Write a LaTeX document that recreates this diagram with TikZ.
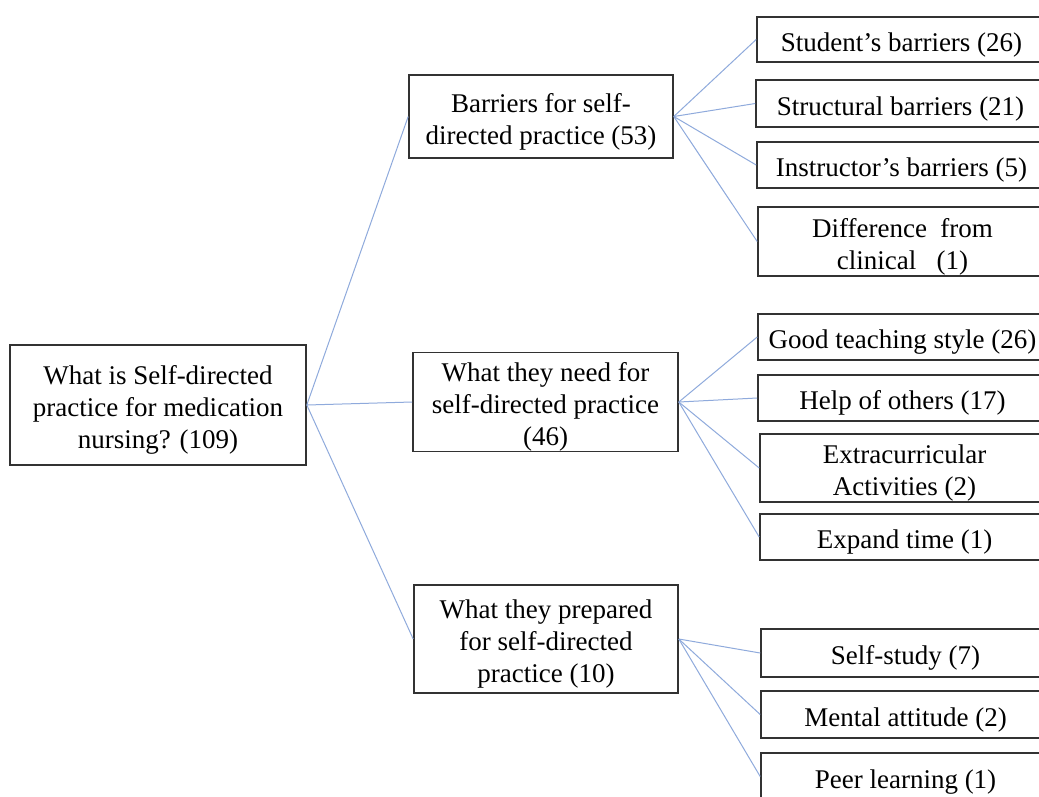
\documentclass[tikz,border=0pt]{standalone}
\usepackage{fontspec}
\setmainfont{Liberation Serif}
\definecolor{linkblue}{RGB}{143,170,220}
\definecolor{boxline}{RGB}{50,50,50}
\newcommand\tstrut{\rule{0pt}{29pt}}
\begin{document}
\begin{tikzpicture}[x=1pt,y=-1pt,
  box/.style={draw=boxline, line width=1.6pt, fill=white, rectangle, inner sep=0pt,
    align=center, font=\fontsize{27}{32}\selectfont,
    execute at begin node={\rule{0pt}{29pt}},
    execute at end node={\rule[-6pt]{0pt}{6pt}}},
  leaf/.style={box, minimum width=289pt},
  link/.style={draw=linkblue, line width=1pt}]
\useasboundingbox (0,0) rectangle (1039,796);
\clip (0,0) rectangle (1039,796);
\fill[white] (0,0) rectangle (1039,796);

\node[box, minimum width=296pt, minimum height=120pt] (root) at (158,405)
  {\tstrut What is Self-directed\\practice for medication\\nursing? (109)};
\node[box, minimum width=264pt, minimum height=83pt] (bar) at (541,116.5)
  {\tstrut Barriers for self-\\directed practice (53)};
\node[box, minimum width=265pt, minimum height=96pt] (need) at (545.5,402)
  {\tstrut What they need for\\self-directed practice\\(46)};
\node[box, minimum width=264pt, minimum height=108pt] (prep) at (546,639)
  {\tstrut What they prepared\\for self-directed\\practice (10)};

\node[leaf, minimum height=45pt] (s1) at (901.5,39.5) {Student’s barriers (26)};
\node[leaf, minimum height=47pt] (s2) at (900.5,103.5) {Structural barriers (21)};
\node[leaf, minimum height=46pt] (s3) at (901.5,165) {Instructor’s barriers (5)};
\node[leaf, minimum height=69pt] (s4) at (902.5,241.5) {\tstrut Difference~~from\\clinical~~~(1)};

\node[leaf, minimum height=46pt] (n1) at (902.5,337) {Good teaching style (26)};
\node[leaf, minimum height=46pt] (n2) at (902.5,398) {Help of others (17)};
\node[leaf, minimum height=68pt] (n3) at (904.5,468) {\tstrut Extracurricular\\Activities (2)};
\node[leaf, minimum height=46pt] (n4) at (904.5,537) {Expand time (1)};

\node[leaf, minimum height=48pt] (p1) at (905.5,653) {Self-study (7)};
\node[leaf, minimum height=47pt] (p2) at (905.5,714.5) {Mental attitude (2)};
\node[leaf, minimum height=47pt] (p3) at (905.5,776.5) {Peer learning (1)};

\foreach \c in {bar,need,prep} \draw[link] (root.east) -- (\c.west);
\foreach \c in {s1,s2,s3,s4} \draw[link] (bar.east) -- (\c.west);
\foreach \c in {n1,n2,n3,n4} \draw[link] (need.east) -- (\c.west);
\foreach \c in {p1,p2,p3} \draw[link] (prep.east) -- (\c.west);
\end{tikzpicture}
\end{document}
